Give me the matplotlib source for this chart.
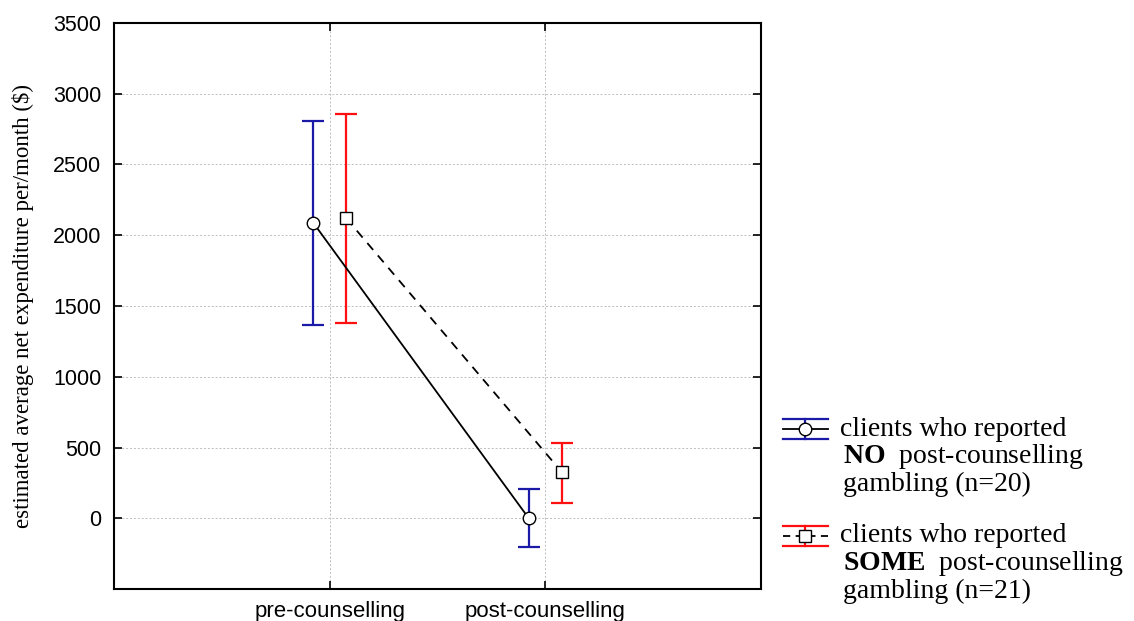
import numpy as np
import matplotlib.pyplot as plt
from matplotlib.lines import Line2D

plt.rcParams['mathtext.fontset'] = 'custom'
plt.rcParams['mathtext.rm'] = 'Liberation Serif'
plt.rcParams['mathtext.bf'] = 'Liberation Serif:bold'

# group means and error bar limits ($ per month)
phases = ['pre-counselling', 'post-counselling']
no_mean = [2090, 0]
no_upper = [2805, 205]
no_lower = [1365, -205]
some_mean = [2120, 325]
some_upper = [2860, 535]
some_lower = [1380, 110]

yticks = [0, 500, 1000, 1500, 2000, 2500, 3000, 3500]

W, H = 1134, 621
fig = plt.figure(figsize=(W / 100, H / 100), dpi=100)
ax = fig.add_axes([114 / W, 1 - 589 / H, (761 - 114) / W, (589 - 23) / H])

x = np.arange(1, len(phases) + 1)
off = 0.077


def draw_group(xpos, mean, lo, hi, color, ls, marker):
    mean = np.array(mean)
    yerr = [mean - np.array(lo), np.array(hi) - mean]
    ax.errorbar(xpos, mean, yerr=yerr, fmt='none', ecolor=color,
                elinewidth=1.6, capsize=8, capthick=1.6, zorder=3)
    ax.plot(xpos, mean, color='black', ls=ls, lw=1.3, zorder=4,
            marker=marker, markersize=9 if marker == 'o' else 8,
            markerfacecolor='white', markeredgecolor='black',
            markeredgewidth=1.0)


draw_group(x - off, no_mean, no_lower, no_upper, '#1a1aa6', '-', 'o')
draw_group(x + off, some_mean, some_lower, some_upper, '#ff1010', (0, (5, 4)), 's')

ax.set_xlim(0, 3)
ax.set_ylim(-500, 3500)
ax.set_xticks(x)
ax.set_xticklabels(phases, fontsize=16, family='Liberation Sans')
ax.set_yticks(yticks)
ax.set_yticklabels([str(v) for v in yticks], fontsize=15.5, family='Liberation Sans')
ax.tick_params(direction='in', length=6, width=1.2, top=True, right=True, pad=9)
ax.grid(True, color='#bdbdbd', ls=(0, (2, 2)), lw=0.7)
ax.set_axisbelow(True)
for s in ax.spines.values():
    s.set_linewidth(1.5)
ax.set_ylabel('estimated average net expenditure per/month ($)',
              family='Liberation Serif', fontsize=16.5, labelpad=14)

# legend drawn on a pixel-scaled overlay
lax = fig.add_axes([0, 0, 1, 1], zorder=5)
lax.set_xlim(0, W)
lax.set_ylim(H, 0)
lax.axis('off')


def legend_entry(yc, color, ls, marker, label):
    x0, x1, xm = 783, 828, 805
    for yy in (yc - 10, yc + 10):
        lax.add_line(Line2D([x0, x1], [yy, yy], color=color, lw=1.6))
    lax.add_line(Line2D([xm, xm], [yc - 10, yc + 10], color=color, lw=1.6))
    lax.add_line(Line2D([x0, x1], [yc, yc], color='black', ls=ls, lw=1.3))
    lax.plot([xm], [yc], marker=marker, ms=9 if marker == 'o' else 8,
             mfc='white', mec='black', mew=1.0)
    lax.text(840, yc, label[0], fontsize=20, family='Liberation Serif',
             va='center', ha='left')
    for k, line in enumerate(label[1:], start=1):
        lax.text(843, yc + 27.5 * k, line, fontsize=20, family='Liberation Serif',
                 va='center', ha='left')


legend_entry(429, '#1a1aa6', '-', 'o',
             ['clients who reported', r'$\mathbf{NO}$  post-counselling',
              'gambling (n=20)'])
legend_entry(536, '#ff1010', (0, (4, 3)), 's',
             ['clients who reported', r'$\mathbf{SOME}$  post-counselling',
              'gambling (n=21)'])

fig.savefig('out.png', dpi=100)
